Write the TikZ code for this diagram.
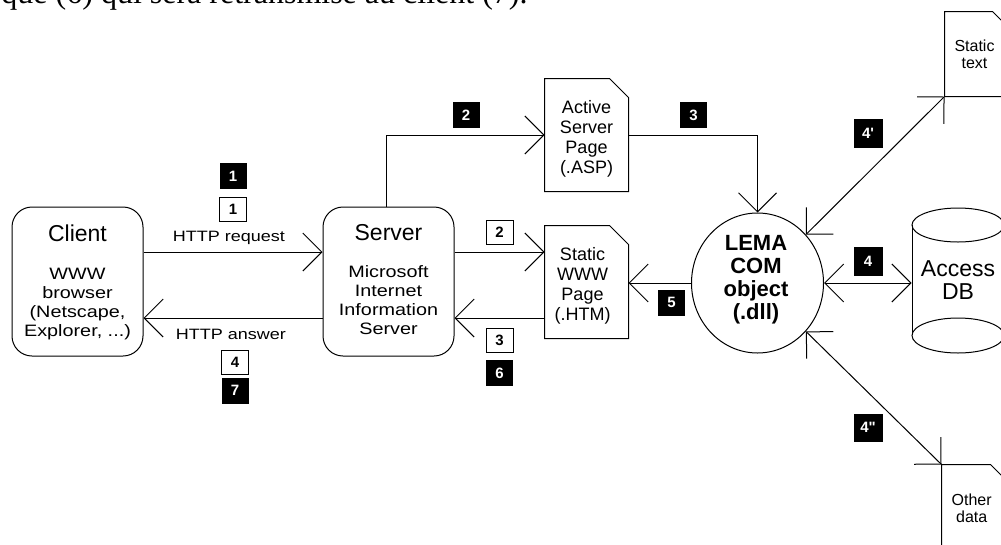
\documentclass[tikz,border=0pt]{standalone}
\usepackage{fontspec}
\setmainfont{Liberation Sans}
\newfontfamily\topserif{Liberation Serif}
\newfontfamily\widesans[FakeStretch=1.2]{Liberation Sans}
\usetikzlibrary{arrows.meta,calc,shapes.geometric}
\newcommand\docoutline[2]{\draw (#1.south west) -- (#1.north west) -- ([xshift=-#2]#1.north east) -- ([yshift=-#2]#1.north east) -- (#1.south east) -- cycle;}
\tikzset{
  box/.style={draw, rounded corners=20pt, minimum width=131pt, minimum height=149pt, inner sep=0pt},
  docnode/.style={inner sep=0pt, minimum width=#1},
  titletxt/.style={inner sep=0pt, font=\fontsize{23}{26}\selectfont},
  subtxt/.style={inner sep=0pt, align=center, font=\widesans\fontsize{16.5}{19}\selectfont},
  pagetxt/.style={inner sep=0pt, align=center, font=\fontsize{18}{20}\selectfont},
  smalltxt/.style={inner sep=0pt, align=center, font=\fontsize{16}{17}\selectfont},
  lematxt/.style={inner sep=0pt, align=center, font=\bfseries\fontsize{22}{23}\selectfont},
  dbtxt/.style={inner sep=0pt, align=center, font=\fontsize{23}{23}\selectfont},
  httptxt/.style={inner sep=0pt, font=\widesans\fontsize{15}{18}\selectfont},
  blk/.style={fill=black, text=white, inner sep=0pt, minimum width=27pt, minimum height=26pt, font=\bfseries\fontsize{15}{15}\selectfont},
  wht/.style={draw, fill=white, line width=0.8pt, inner sep=0pt, minimum width=27pt, minimum height=24pt, font=\bfseries\fontsize{15}{15}\selectfont},
}
\begin{document}
\begin{tikzpicture}[x=1pt,y=-1pt,line width=1pt,>={Straight Barb[length=19pt,width=38pt]}]
\useasboundingbox (0,0) rectangle (1001,544);
\clip (0,0) rectangle (1001,544);

% top text (cut by the upper edge, as in the reference)
\node[anchor=base west, inner sep=0pt, font=\topserif\fontsize{32}{36}\selectfont] (toptext) at (1,3.5) {que (6) qui sera retransmise au client (7).};

% client & server
\node[box] (client) at (77.5,281.5) {};
\node[titletxt] (clientT) at (77.5,233) {Client};
\node[subtxt] (clientS) at (77.5,304) {WWW\\browser\\(Netscape,\\Explorer, ...)};
\node[box] (server) at (388.5,281.5) {};
\node[titletxt] (serverT) at (388.5,233) {Server};
\node[subtxt] (serverS) at (388.5,300) {Microsoft\\Internet\\Information\\Server};

% pages
\node[docnode=83pt, minimum height=112pt] (asp) at (586.5,135) {};
\docoutline{asp}{19pt}
\node[pagetxt] (aspT) at (586.5,139) {Active\\Server\\Page\\(.ASP)};
\node[docnode=83pt, minimum height=112pt] (htm) at (586.5,282) {};
\docoutline{htm}{19pt}
\node[pagetxt] (htmT) at (582.5,286) {Static\\WWW\\Page\\(.HTM)};

% LEMA
\node[draw, ellipse, minimum width=132pt, minimum height=140pt, inner sep=0pt] (lema) at (757.5,283) {};
\node[lematxt] (lemaT) at (756,280) {LEMA\\COM\\object\\(.dll)};

% Access DB cylinder
\node[inner sep=0pt, minimum width=92pt, minimum height=145pt] (db) at (958,280.5) {};
\draw (912,225) -- (912,335);
\draw (1004,225) -- (1004,335);
\draw (958,225) ellipse [x radius=46pt, y radius=17pt];
\draw (958,335.5) ellipse [x radius=46pt, y radius=17.5pt];
\node[dbtxt] (dbT) at (958,280) {Access\\DB};

% static text & other data
\node[docnode=63pt, minimum height=84pt] (stext) at (976.5,54) {};
\docoutline{stext}{16pt}
\node[smalltxt] (stextT) at (974.5,54) {Static\\text};
\node[docnode=63pt, minimum height=95pt] (other) at (973.5,512.5) {};
\docoutline{other}{15pt}
\node[smalltxt] (otherT) at (971.7,508) {Other\\data};

% connectors
\draw[->] ([yshift=29.5pt]client.east) -- ([yshift=29.5pt]server.west);
\draw[->] ([yshift=-36.5pt]server.west) -- ([yshift=-36.5pt]client.east);
\draw[->] ([yshift=29.5pt]server.east) -- ([yshift=29.5pt]server.east -| htm.west);
\draw[->] ([yshift=-36.5pt]server.east -| htm.west) -- ([yshift=-36.5pt]server.east);
\draw[->] ([xshift=-2pt]server.north) |- (asp.west);
\draw[->] (asp.east) -| (lema.north);
\draw[->] (lema.west) -- (lema.west -| htm.east);
\draw[<->] (lema.east) -- (lema.east -| db.west);
\draw[<->] (lema.45) -- (stext.south west);
\draw[<->] (lema.-45) -- (other.north west);

% http labels
\node[httptxt] (req) at (229,238) {HTTP request};
\node[httptxt] (ans) at (231,334) {HTTP answer};

% step labels
\node[blk] (b1) at (233,176) {1};
\node[wht] (w1) at (233,209.5) {1};
\node[wht] (w4) at (235,362) {4};
\node[blk] (b7) at (235,390.5) {7};
\node[blk] (b2) at (466,115) {2};
\node[wht] (w2) at (499.5,232.5) {2};
\node[wht] (w3) at (499.5,340) {3};
\node[blk] (b6) at (499.5,373) {6};
\node[blk] (b3) at (693.5,115) {3};
\node[blk] (b5) at (671.5,302.5) {5};
\node[blk, minimum width=29pt, minimum height=29pt] (b4p) at (868,133) {4\textquotesingle};
\node[blk, minimum width=29pt, minimum height=29pt] (b4) at (868,261.5) {4};
\node[blk, minimum width=29pt, minimum height=28pt] (b4pp) at (868,427.5) {4\textquotedbl};
\end{tikzpicture}
\end{document}
